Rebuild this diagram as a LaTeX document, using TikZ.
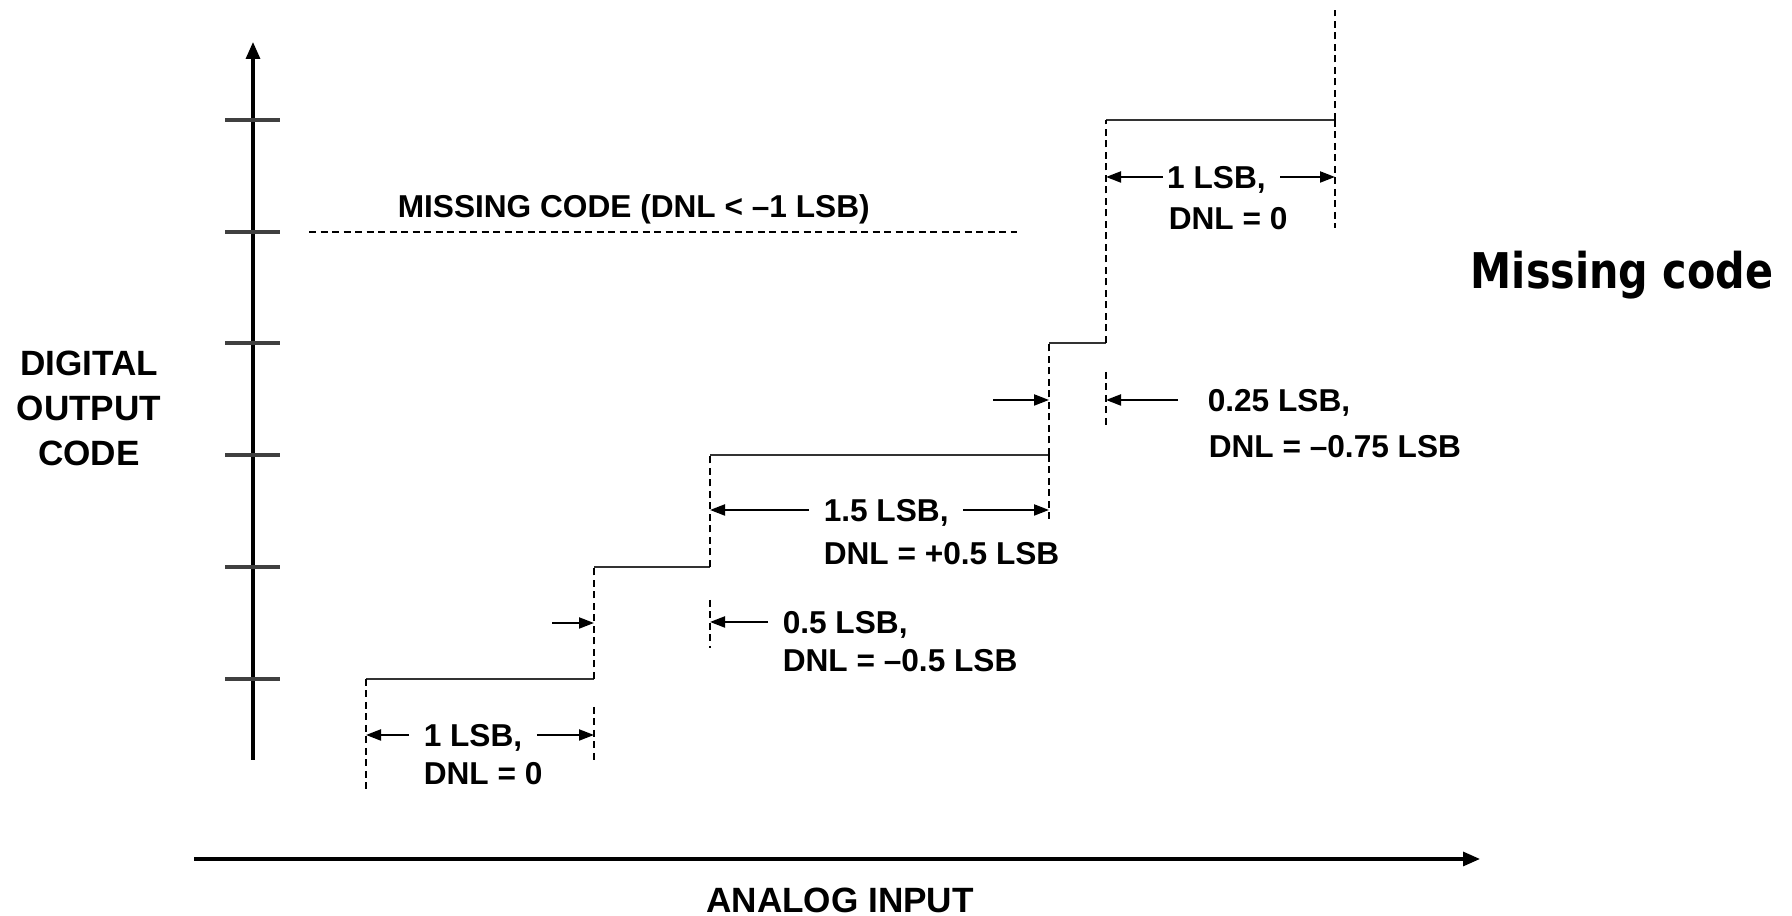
\documentclass[tikz,border=0pt]{standalone}
\usepackage{fontspec}
\usepackage{tikz}
\usetikzlibrary{arrows.meta, positioning, calc}
\newfontfamily\diagfont{Liberation Sans}
\newfontfamily\notefont{DejaVu Sans}[FakeStretch=0.84]

\begin{document}
\begin{tikzpicture}[
    lbltext/.style={font=\diagfont\bfseries\fontsize{9}{13}\selectfont, inner xsep=4pt, inner ysep=1pt},
    lbl/.style={lbltext, text height=6.4pt, text depth=0pt},
    axislbl/.style={lbltext, font=\diagfont\bfseries\fontsize{10}{12.8}\selectfont},
    axis/.style={line width=0.9pt, -{Triangle[length=1.7mm, width=1.4mm]}},
    tickmark/.style={line width=0.9pt, black!75},
    level/.style={line width=0.8pt, black!80},
    guide/.style={line width=0.6pt, dash pattern=on 0.7mm off 0.45mm},
    dim/.style={line width=0.6pt, -{Triangle[length=1.5mm, width=1.1mm]}}
]

\useasboundingbox (0,0) rectangle (17.92,9.16);

% Axes
\coordinate (o) at (2.53,1.56);
\coordinate (ytop) at (2.53,8.74);
\coordinate (xl) at (1.94,0.57);
\coordinate (xr) at (14.80,0.57);
\draw[axis] (o) -- (ytop);
\draw[axis] (xl) -- (xr);
\foreach \y in {2.37,3.49,4.61,5.73,6.84,7.96}
    \draw[tickmark] (2.25,\y) -- (2.80,\y);

\node[axislbl, align=center] (ylab) at (0.89,5.08) {DIGITAL\\OUTPUT\\CODE};
\node[axislbl, text height=7.2pt, text depth=0pt] (xlab) at (8.40,0.16) {ANALOG INPUT};

% Staircase corners
\coordinate (s0) at (3.66,2.37);
\coordinate (s1) at (5.94,2.37);
\coordinate (s1t) at (5.94,3.49);
\coordinate (s2) at (7.10,3.49);
\coordinate (s2t) at (7.10,4.61);
\coordinate (s3) at (10.49,4.61);
\coordinate (s3t) at (10.49,5.73);
\coordinate (s4) at (11.06,5.73);
\coordinate (s4t) at (11.06,7.96);
\coordinate (s5) at (13.35,7.96);

% Code levels
\draw[level] (s0) -- (s1);
\draw[level] (s1t) -- (s2);
\draw[level] (s2t) -- (s3);
\draw[level] (s3t) -- (s4);
\draw[level] (s4t) -- (s5);

% Transitions
\draw[guide] (s1) -- (s1t);
\draw[guide] (s2) -- (s2t);
\draw[guide] (s3) -- (s3t);
\draw[guide] (s4) -- (s4t);
\draw[guide] (s5) -- ++(0,1.10);

% Extension lines
\draw[guide] (s0) -- ++(0,-1.11);
\draw[guide] ($(s1)+(0,-0.28)$) -- ++(0,-0.53);
\draw[guide] ($(s2)+(0,-0.33)$) -- ++(0,-0.48);
\draw[guide] (s3) -- ++(0,-0.68);
\draw[guide] ($(s4)+(0,-0.29)$) -- ++(0,-0.55);
\draw[guide] (s5) -- ++(0,-1.08);

% Missing code
\coordinate (m0) at (3.09,6.84);
\coordinate (m1) at (10.17,6.84);
\draw[guide] (m0) -- (m1);
\node[lbl, anchor=west] (miss) at (3.83,7.10) {MISSING CODE (DNL < –1 LSB)};

% Code widths
\node[lbl, anchor=west] (lsbA) at (4.09,1.81) {1 LSB,};
\node[lbl, anchor=west] (dnlA) at (4.09,1.43) {DNL = 0};
\draw[dim] (lsbA.west) -- (lsbA.west -| s0);
\draw[dim] (lsbA.east) -- (lsbA.east -| s1);

\coordinate (pA) at (5.52,2.93);
\draw[dim] (pA) -- (pA -| s1);
\node[lbl, anchor=west] (lsbB) at (7.68,2.94) {0.5 LSB,};
\node[lbl, anchor=west] (dnlB) at (7.68,2.56) {DNL = –0.5 LSB};
\draw[dim] (lsbB.west) -- (lsbB.west -| s2);

\node[lbl, anchor=west] (lsbC) at (8.09,4.06) {1.5 LSB,};
\node[lbl, anchor=west] (dnlC) at (8.09,3.63) {DNL = +0.5 LSB};
\draw[dim] (lsbC.west) -- (lsbC.west -| s2);
\draw[dim] (lsbC.east) -- (lsbC.east -| s3);

\coordinate (pD) at (9.93,5.16);
\draw[dim] (pD) -- (pD -| s3);
\node[lbl, anchor=west] (lsbD) at (11.93,5.16) {0.25 LSB,};
\node[lbl, anchor=west] (dnlD) at (11.94,4.70) {DNL = –0.75 LSB};
\draw[dim] ([xshift=-1.5mm]lsbD.west) -- (lsbD.west -| s4);

\node[lbl, anchor=west, inner xsep=1pt] (lsbE) at (11.63,7.39) {1 LSB,};
\node[lbl, anchor=west] (dnlE) at (11.54,6.98) {DNL = 0};
\draw[dim] (lsbE.west) -- (lsbE.west -| s4);
\draw[dim] ([xshift=3pt]lsbE.east) -- (lsbE.east -| s5);

% Note
\node[font=\notefont\bfseries\fontsize{14}{16}\selectfont, anchor=base] (note) at (16.22,6.27) {Missing code};

\end{tikzpicture}
\end{document}
